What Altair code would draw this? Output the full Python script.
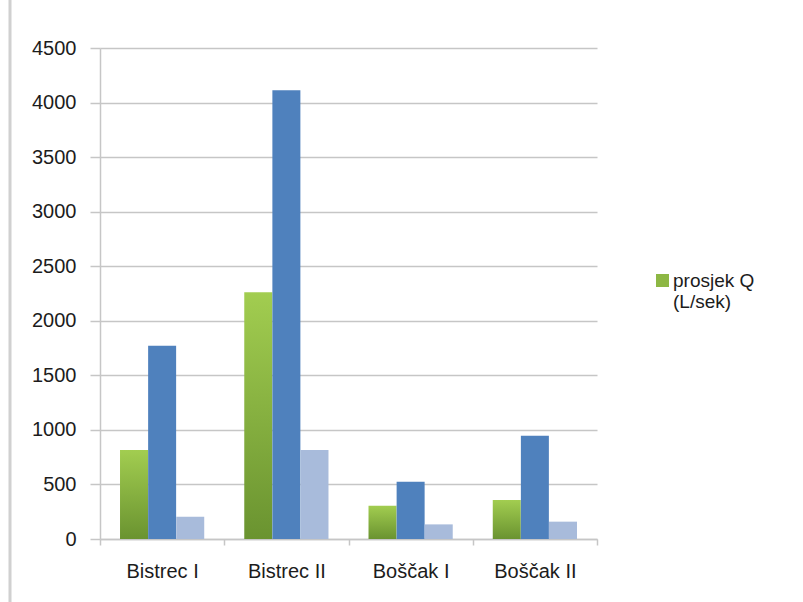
import altair as alt
import pandas as pd

categories = ["Bistrec I", "Bistrec II", "Boščak I", "Boščak II"]
series = ["prosjek Q (L/sek)", "maks Q (L/sek)", "min Q (L/sek)"]
prosjek = [815, 2262, 305, 357]
maks = [1770, 4112, 525, 946]
minq = [204, 815, 134, 159]
y_ticks = [0, 500, 1000, 1500, 2000, 2500, 3000, 3500, 4000, 4500]

colors = ["#8DB744", "#4F81BD", "#A8BBDB"]

rows = []
for i, c in enumerate(categories):
    for s, vals in zip(series, [prosjek, maks, minq]):
        rows.append({"kat": c, "serija": s, "q": vals[i]})
df = pd.DataFrame(rows)

FONT = "Liberation Sans"
TXT = "#1C1C1C"
GRID = "#C6C6C6"

green_grad = alt.Gradient(
    gradient="linear",
    stops=[alt.GradientStop(color="#A2CD50", offset=0),
           alt.GradientStop(color="#6A9330", offset=1)],
    x1=0, x2=0, y1=0, y2=1,
)

bars = alt.Chart(df).mark_bar(size=28).encode(
    x=alt.X("kat:N", sort=categories, title=None,
            scale=alt.Scale(paddingInner=0, paddingOuter=0),
            axis=alt.Axis(tickBand="extent", labelAngle=0, labelFont=FONT,
                          labelFontSize=20, labelColor=TXT, tickSize=6,
                          tickColor=GRID, domainColor=GRID, domainWidth=1.5,
                          tickWidth=1.5, labelPadding=16, grid=False)),
    xOffset=alt.XOffset("serija:N", sort=series,
                        scale=alt.Scale(domain=series, paddingInner=0, paddingOuter=0.71)),
    y=alt.Y("q:Q", title=None,
            scale=alt.Scale(domain=[0, 4500], nice=False),
            axis=alt.Axis(values=y_ticks, labelFont=FONT, labelFontSize=20,
                          labelColor=TXT, tickSize=10, tickColor=GRID, tickWidth=1.5,
                          domainColor=GRID, domainWidth=1.5, gridColor=GRID,
                          gridWidth=1.5, labelPadding=14, format="d")),
    fill=alt.condition(
        alt.datum.serija == series[0],
        alt.value(green_grad),
        alt.Fill("serija:N", sort=series,
                 scale=alt.Scale(domain=series, range=colors),
                 legend=alt.Legend(values=[series[0]], title=None, orient="none",
                                   legendX=553, legendY=223, symbolType="square",
                                   symbolSize=170, symbolStrokeWidth=0,
                                   labelFont=FONT, labelFontSize=19, labelColor=TXT,
                                   labelOffset=1, labelBaseline="middle",
                                   labelExpr="datum.label == 'prosjek Q (L/sek)' ? ['prosjek Q', '(L/sek)'] : datum.label")),
    ),
)

border = alt.Chart(pd.DataFrame({"a": [0]})).mark_rule(color="#D0D0D0", strokeWidth=3).encode(
    x=alt.value(-90), y=alt.value(-48), y2=alt.value(554)
)

chart = alt.layer(border, bars).properties(
    width=497, height=491,
    autosize=alt.AutoSizeParams(type="none"),
    padding={"left": 100, "top": 48, "right": 206, "bottom": 63},
    background="white",
).configure_view(stroke=None)

chart.save("out.html", embed_options={"renderer": "svg", "actions": False})
